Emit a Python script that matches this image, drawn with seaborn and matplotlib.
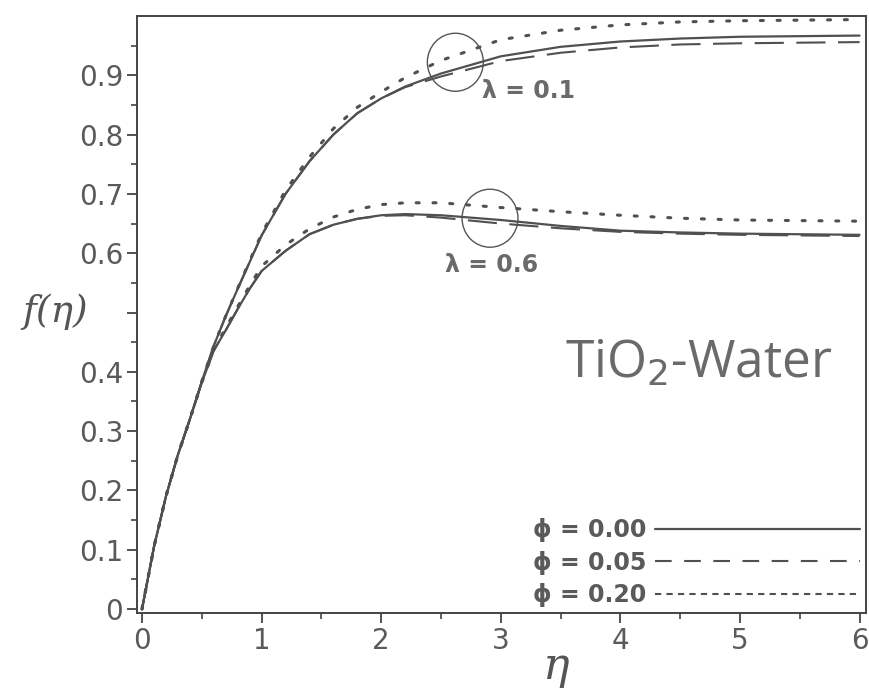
import numpy as np
import pandas as pd
import matplotlib
matplotlib.use("Agg")
import matplotlib.pyplot as plt
from matplotlib.lines import Line2D
from matplotlib.patches import Ellipse
import seaborn as sns

# ---------------- data ----------------
eta = [0, 0.1, 0.2, 0.3, 0.4, 0.5, 0.6, 0.7, 0.8, 0.9, 1.0, 1.2, 1.4, 1.6, 1.8,
       2.0, 2.2, 2.5, 3.0, 3.5, 4.0, 4.5, 5.0, 5.5, 6.0]

# lambda = 0.1
l1_phi000 = [0, 0.105, 0.19, 0.26, 0.32, 0.384, 0.444, 0.494, 0.540, 0.585, 0.630, 0.700, 0.755,
             0.800, 0.836, 0.861, 0.881, 0.903, 0.932, 0.948, 0.957, 0.962, 0.965, 0.966, 0.967]
l1_phi005 = [0, 0.105, 0.19, 0.26, 0.32, 0.384, 0.444, 0.494, 0.540, 0.585, 0.630, 0.700, 0.755,
             0.800, 0.836, 0.861, 0.880, 0.898, 0.924, 0.938, 0.947, 0.952, 0.954, 0.955, 0.956]
l1_phi020 = [0, 0.105, 0.19, 0.26, 0.32, 0.384, 0.444, 0.494, 0.541, 0.587, 0.633, 0.706, 0.762,
             0.810, 0.846, 0.872, 0.896, 0.925, 0.960, 0.976, 0.985, 0.990, 0.992, 0.993, 0.994]

# lambda = 0.6
l6_phi000 = [0, 0.105, 0.19, 0.26, 0.32, 0.382, 0.436, 0.470, 0.506, 0.540, 0.570, 0.604, 0.632,
             0.648, 0.658, 0.664, 0.666, 0.664, 0.656, 0.646, 0.638, 0.635, 0.633, 0.632, 0.631]
l6_phi005 = [0, 0.105, 0.19, 0.26, 0.32, 0.382, 0.436, 0.470, 0.506, 0.540, 0.570, 0.604, 0.632,
             0.648, 0.658, 0.663, 0.664, 0.660, 0.650, 0.642, 0.636, 0.633, 0.631, 0.630, 0.629]
l6_phi020 = [0, 0.105, 0.19, 0.26, 0.32, 0.382, 0.437, 0.474, 0.510, 0.545, 0.578, 0.614, 0.641,
             0.661, 0.674, 0.682, 0.685, 0.685, 0.677, 0.670, 0.664, 0.659, 0.656, 0.655, 0.654]

phi_labels = ["ϕ = 0.00", "ϕ = 0.05", "ϕ = 0.20"]
lam_labels = ["λ = 0.1", "λ = 0.6"]
y_ticks = [0, 0.1, 0.2, 0.3, 0.4, 0.5, 0.6, 0.7, 0.8, 0.9]
y_ticklabels = ["0", "0.1", "0.2", "0.3", "0.4", "", "0.6", "0.7", "0.8", "0.9"]
x_ticks = [0, 1, 2, 3, 4, 5, 6]

# ---------------- figure ----------------
sns.set_style("white")
plt.rcParams["font.family"] = ["DejaVu Sans"]

fig = plt.figure(figsize=(8.7, 6.89), dpi=100)
ax = fig.add_axes([137 / 870, 1 - 613 / 689, (866 - 137) / 870, (613 - 16) / 689])

LC = "#505050"
dash_styles = {
    "ϕ = 0.00": (None, 1.6),
    "ϕ = 0.05": ((14, 6), 1.5),
    "ϕ = 0.20": ((1, 4.5), 2.2),
}

series = [
    (l1_phi000, phi_labels[0]), (l1_phi005, phi_labels[1]), (l1_phi020, phi_labels[2]),
    (l6_phi000, phi_labels[0]), (l6_phi005, phi_labels[1]), (l6_phi020, phi_labels[2]),
]
for vals, lab in series:
    df = pd.DataFrame({"eta": eta, "f": vals})
    d, lw = dash_styles[lab]
    sns.lineplot(data=df, x="eta", y="f", ax=ax, color=LC, lw=lw,
                 legend=False, sort=False)
    ln = ax.lines[-1]
    if d is not None:
        ln.set_dashes(d)
        if lab == "ϕ = 0.20":
            ln.set_dash_capstyle("round")

ax.set_xlim(-0.042, 6.054)
ax.set_ylim(-0.0067, 1.0)

ax.set_xticks(x_ticks)
ax.set_xticks(np.arange(0.5, 6, 1.0), minor=True)
ax.set_yticks(y_ticks)
ax.set_yticklabels(y_ticklabels)
ax.set_yticks(np.arange(0.05, 1.0, 0.1), minor=True)

for s in ["left", "bottom", "top", "right"]:
    ax.spines[s].set_color("#444444")
    ax.spines[s].set_linewidth(1.4)

ax.tick_params(axis="both", which="major", direction="out", length=7, width=1.3,
               color="#444444", labelsize=20, labelcolor="#5a5a5a", pad=3,
               left=True, bottom=True)
ax.tick_params(axis="both", which="minor", direction="out", length=4.5, width=1.2,
               color="#444444", left=True, bottom=True)

ax.set_xlabel("")
ax.set_ylabel("")
fig.text(556 / 870, 1 - 666 / 689, "η", fontsize=32, color="#555555",
         ha="center", va="center", family="DejaVu Serif", style="italic")
fig.text(55 / 870, 1 - 312 / 689, "f(η)", fontsize=27, color="#555555",
         ha="center", va="center", family="DejaVu Serif", style="italic")

# annotations
ax.text(4.66, 0.413, "TiO$_2$-Water", fontsize=37, color="#6a6a6a",
        ha="center", va="center", family="Open Sans")
ax.text(2.84, 0.873, lam_labels[0], fontsize=17, fontweight="bold", color="#6a6a6a",
        ha="left", va="center")
ax.text(2.53, 0.58, lam_labels[1], fontsize=17, fontweight="bold", color="#6a6a6a",
        ha="left", va="center")

for cx, cy in [(2.62, 0.922), (2.91, 0.659)]:
    ax.add_patch(Ellipse((cx, cy), width=56 / 119.7, height=58 / 593.0,
                         fill=False, ec="#555555", lw=1.0))

# legend
handles = [
    Line2D([], [], color=LC, lw=1.6),
    Line2D([], [], color=LC, lw=1.5, dashes=(8, 6)),
    Line2D([], [], color=LC, lw=1.5, dashes=(3, 2.5)),
]
leg = ax.legend(handles, phi_labels, loc="lower right", markerfirst=False,
                frameon=False, handlelength=8.7, handletextpad=0.35,
                labelspacing=0.36, borderaxespad=0.05, borderpad=0.2,
                prop={"size": 17, "weight": "bold"})
for t in leg.get_texts():
    t.set_color("#5a5a5a")

fig.savefig("out.png", dpi=100)
